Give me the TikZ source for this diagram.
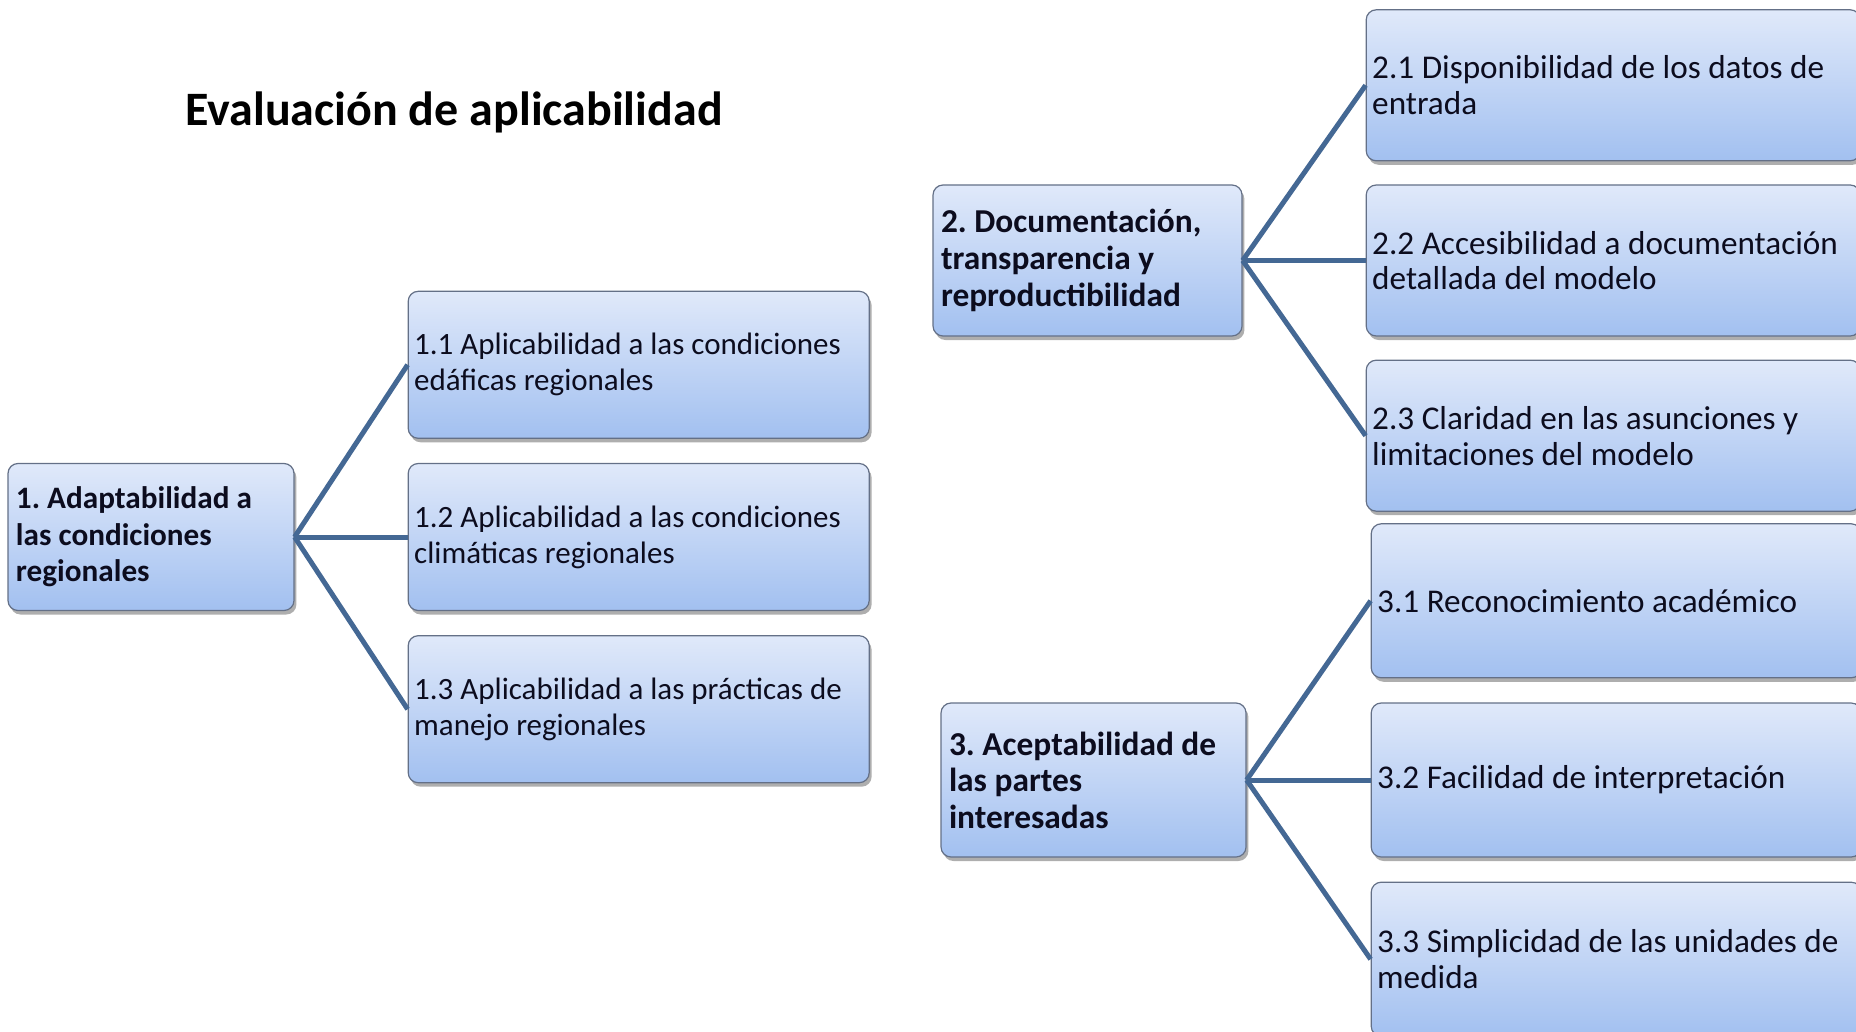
\documentclass[tikz,border=0pt]{standalone}
\usepackage{fontspec}
\setmainfont{Carlito}
\usetikzlibrary{positioning, shadows}

\definecolor{boxtop}{RGB}{224,233,250}
\definecolor{boxbot}{RGB}{162,192,240}
\definecolor{boxline}{RGB}{100,112,135}
\definecolor{linkblue}{RGB}{68,104,148}
\definecolor{inktext}{RGB}{12,12,30}

\begin{document}
\frenchspacing
\begin{tikzpicture}[
  x=0.5pt, y=-0.5pt,
  basebox/.style={draw=boxline, line width=0.6pt, rounded corners=5pt,
                  top color=boxtop, bottom color=boxbot, text=inktext,
                  align=flush left, anchor=center,
                  drop shadow={shadow xshift=1.2pt, shadow yshift=-2pt,
                               fill=black!70, opacity=0.45}},
  mainbox/.style={basebox, inner xsep=4pt, font=\fontsize{16.7}{18.3}\selectfont\bfseries},
  subbox/.style={basebox, inner xsep=3pt, minimum height=75.5pt,
                 font=\fontsize{15.5}{17.9}\selectfont},
  widesub/.style={subbox, font=\fontsize{16.6}{17.9}\selectfont},
  link/.style={draw=linkblue, line width=2.5pt},
  title/.style={font=\fontsize{24}{28}\selectfont\bfseries, text=black}
]
\clip (0,0) rectangle (1856,1032);

\node[title] (head) at (454,112) {Evaluación de aplicabilidad};

% criterio 1
\node[mainbox, font=\fontsize{15.6}{18.3}\selectfont\bfseries,
      minimum width=143pt, minimum height=73.5pt, text width=135pt] (adapt) at (151,537)
  {1. Adaptabilidad a\\las condiciones\\regionales};
\node[subbox, minimum width=230.5pt, minimum height=73.5pt, text width=224.5pt, right=56.5pt of adapt] (adapt2)
  {1.2 Aplicabilidad a las condiciones\\climáticas regionales};
\node[subbox, minimum width=230.5pt, minimum height=73.5pt, text width=224.5pt, above=12pt of adapt2] (adapt1)
  {1.1 Aplicabilidad a las condiciones\\edáficas regionales};
\node[subbox, minimum width=230.5pt, minimum height=73.5pt, text width=224.5pt, below=12pt of adapt2] (adapt3)
  {1.3 Aplicabilidad a las prácticas de\\manejo regionales};

% criterio 2
\node[mainbox, minimum width=154.5pt, minimum height=75.5pt, text width=146.5pt] (docu) at (1087.5,260.5)
  {2. Documentación,\\transparencia y\\reproductibilidad};
\node[widesub, minimum width=247pt, text width=241pt, right=61.5pt of docu] (docu2)
  {2.2 Accesibilidad a documentación\\detallada del modelo};
\node[widesub, minimum width=247pt, text width=241pt, above=11.5pt of docu2] (docu1)
  {2.1 Disponibilidad de los datos de\\entrada};
\node[widesub, minimum width=247pt, text width=241pt, below=11.5pt of docu2] (docu3)
  {2.3 Claridad en las asunciones y\\limitaciones del modelo};

% criterio 3
\node[mainbox, minimum width=152.5pt, minimum height=77pt, text width=144.5pt] (acep) at (1093.5,780)
  {3. Aceptabilidad de\\las partes\\interesadas};
\node[widesub, minimum width=245pt, minimum height=77pt, text width=239pt, right=62pt of acep] (acep2)
  {3.2 Facilidad de interpretación};
\node[widesub, minimum width=245pt, minimum height=77pt, text width=239pt, above=12pt of acep2] (acep1)
  {3.1 Reconocimiento académico};
\node[widesub, minimum width=245pt, minimum height=77pt, text width=239pt, below=12pt of acep2] (acep3)
  {3.3 Simplicidad de las unidades de\\medida};

\foreach \src in {adapt, docu, acep}
  \foreach \i in {1,2,3}
    \draw[link] (\src.east) -- (\src\i.west);
\end{tikzpicture}
\end{document}
